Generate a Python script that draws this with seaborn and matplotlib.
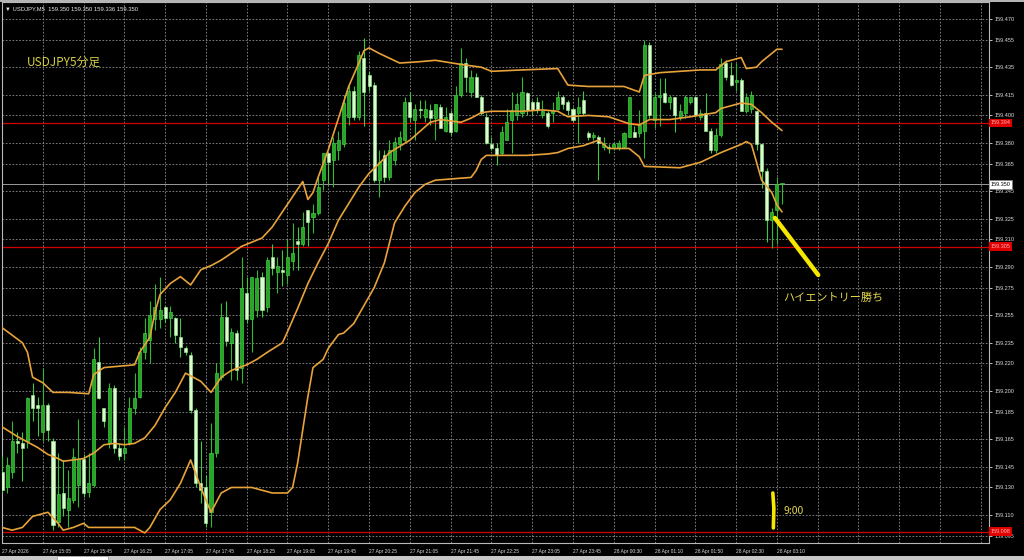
import numpy as np
import pandas as pd
import matplotlib
matplotlib.use("Agg")
import matplotlib.pyplot as plt
from matplotlib.patches import Rectangle
import seaborn as sns

BASE = 159.0  # prices below are in points (0.001) above 159.000

open_pts = [141,130,141,164,162,164,197,190,170,190,
            164,105,126,114,121,132,151,127,132,221,
            188,162,202,159,155,162,188,196,228,237,
            252,252,261,253,253,239,231,226,186,133,
            130,112,155,210,254,235,242,217,271,252,
            259,283,261,297,286,288,284,294,309,307,
            331,326,329,353,373,368,375,379,399,418,
            399,442,429,422,353,371,355,368,379,382,
            410,397,405,399,404,398,406,389,402,389,
            415,438,417,428,413,399,379,376,373,382,
            397,400,402,416,410,410,400,402,402,405,
            413,410,405,402,411,387,384,384,377,377,
            376,376,377,384,388,387,389,451,397,413,
            416,410,413,399,402,410,413,399,402,389,
            375,386,438,429,424,426,403,405,403,379,
            360,324,331,350]
high_pts = [153,152,178,170,170,196,206,196,217,191,
            166,155,150,143,159,180,154,155,231,239,
            188,206,204,162,174,196,213,232,253,265,
            278,283,262,262,254,253,233,228,188,164,
            139,177,220,264,265,246,244,297,283,283,
            288,286,297,307,297,302,310,322,319,330,
            331,336,355,373,373,384,389,415,422,421,
            447,456,432,424,375,375,382,384,389,413,
            417,408,411,411,408,408,408,406,404,421,
            449,442,433,431,415,402,384,380,392,405,
            417,416,428,417,411,413,411,403,410,418,
            415,411,406,413,418,389,388,386,384,379,
            381,382,388,413,392,404,455,453,416,427,
            427,415,413,408,415,413,413,405,416,391,
            391,442,440,439,438,427,416,418,404,380,
            362,333,355,350]
low_pts = [127,126,137,155,135,159,178,167,164,164,
           99,101,109,101,119,116,123,123,130,194,
           174,159,155,150,150,161,183,195,223,220,
           244,246,250,239,235,225,226,184,130,119,
           101,101,152,208,233,208,208,206,249,228,
           254,254,257,284,271,276,278,288,288,305,
           305,315,328,346,350,348,368,377,393,397,
           397,392,418,352,341,352,353,364,375,381,
           395,382,398,395,393,382,391,388,386,388,
           413,417,413,413,400,379,375,364,371,382,
           373,397,399,400,400,402,398,391,395,404,
           405,400,395,380,400,382,382,353,375,373,
           375,375,376,384,384,384,369,398,391,392,
           409,405,388,397,398,408,399,397,389,373,
           373,384,426,421,418,403,402,402,375,347,
           308,304,307,336]
close_pts = [128,146,164,162,159,195,188,188,190,172,
             103,125,115,122,152,151,126,133,223,195,
             178,202,159,153,159,188,195,228,242,255,
             261,259,253,257,241,232,228,186,133,128,
             104,155,213,254,236,243,215,275,252,283,
             282,259,295,289,291,286,297,300,307,319,
             323,329,348,373,366,380,382,409,418,399,
             444,417,421,353,366,355,375,381,384,410,
             399,405,404,405,398,408,391,399,388,415,
             438,428,428,413,402,380,376,371,388,395,
             404,408,417,404,404,404,403,392,404,413,
             408,404,397,406,402,384,386,380,380,376,
             379,380,387,413,384,393,451,400,413,415,
             410,413,400,403,413,413,400,402,389,375,
             386,437,428,422,426,403,413,415,379,360,
             324,330,350,350]

# Bollinger band vertices (bar index, points)
upper_idx = [0,4,5,6,8,10,13,17,18,20,26,27,29,30,31,33,35,37,39,41,
             43,45,47,49,51,53,55,57,59,60,61,62,64,66,68,70,71,72,74,78,
             82,85,90,94,96,102,109,111,115,119,122,125,126,129,137,140,142,145,146,148,
             149,151,152,153]
upper_pts = [246,235,228,210,206,199,199,198,212,217,219,228,239,257,270,278,283,277,288,291,
             295,300,305,308,311,319,330,341,352,339,344,355,375,398,421,438,447,449,445,438,
             439,440,437,435,432,433,434,422,421,421,421,417,429,431,433,433,439,442,434,435,
             439,445,448,448]
mid_idx = [0,3,5,7,9,11,12,14,16,18,20,22,24,26,28,30,32,34,36,39,
           41,43,45,48,50,52,55,56,58,60,62,64,66,68,70,72,74,76,80,84,
           86,90,92,94,96,102,106,109,111,115,119,123,125,127,131,135,140,141,145,147,
           149,151,153]
mid_pts = [174,167,163,159,154,151,149,150,151,155,161,162,161,162,166,175,188,199,213,207,
           199,210,215,219,223,228,235,243,260,278,293,307,324,336,348,358,365,373,382,395,
           397,395,398,402,403,403,404,403,399,400,399,394,393,397,397,399,402,405,409,408,
           402,395,389]
lower_idx = [0,2,4,6,9,11,12,14,16,17,19,26,28,29,31,33,35,37,39,41,
             43,45,49,53,56,57,58,59,60,61,63,64,66,67,69,71,73,75,77,79,
             81,83,85,92,93,94,95,103,107,109,111,114,117,119,123,125,126,133,137,141,
             145,146,147,148,149,151,152,153]
lower_pts = [101,99,101,109,112,104,99,101,104,101,101,101,97,101,114,121,133,150,130,112,
             126,130,130,126,126,130,148,172,196,217,223,231,241,242,249,262,275,293,322,334,
             344,350,353,355,360,368,371,371,372,373,376,378,382,376,376,370,363,362,366,373,
             379,381,379,366,353,344,335,330]

time_labels = ["27 Apr 2026", "27 Apr 15:05", "27 Apr 15:45", "27 Apr 16:25", "27 Apr 17:05",
               "27 Apr 17:45", "27 Apr 18:25", "27 Apr 19:05", "27 Apr 19:45", "27 Apr 20:25",
               "27 Apr 21:05", "27 Apr 21:45", "27 Apr 22:25", "27 Apr 23:05", "27 Apr 23:45",
               "28 Apr 00:30", "28 Apr 01:10", "28 Apr 01:50", "28 Apr 02:30", "28 Apr 03:10"]
price_ticks = [159.470, 159.455, 159.435, 159.415, 159.400, 159.380, 159.365, 159.345,
               159.325, 159.310, 159.290, 159.275, 159.255, 159.235, 159.220, 159.200,
               159.185, 159.165, 159.145, 159.130, 159.110, 159.095]
red_levels = [159.3945, 159.3046, 159.0980]
red_texts = ["159.394", "159.305", "159.098"]
bid_price = 159.350
header_text = "▼ USDJPY,M5  159.350 159.350 159.336 159.350"
title_note = "USDJPY5分足"
win_note = "ハイエントリー勝ち"
time_note = "9:00"

n = len(open_pts)
assert all(len(a) == n for a in (high_pts, low_pts, close_pts))
assert len(upper_idx) == len(upper_pts) and len(mid_idx) == len(mid_pts) and len(lower_idx) == len(lower_pts)

sns.set_theme(style="dark", rc={"axes.facecolor": "black", "figure.facecolor": "black",
                                "axes.edgecolor": "#b8b8b8", "text.color": "#d8d8d8",
                                "xtick.color": "#d0d0d0", "ytick.color": "#d0d0d0"})
plt.rcParams["font.family"] = ["Liberation Sans", "DejaVu Sans", "Noto Sans CJK JP"]
JP = ["Noto Sans CJK JP", "DejaVu Sans"]

df = pd.DataFrame({"bar": np.arange(n),
                   "open": BASE + np.array(open_pts) / 1000,
                   "high": BASE + np.array(high_pts) / 1000,
                   "low": BASE + np.array(low_pts) / 1000,
                   "close": BASE + np.array(close_pts) / 1000})
df["high"] = df[["high", "open", "close"]].max(axis=1)
df["low"] = df[["low", "open", "close"]].min(axis=1)
bull = (df["close"] >= df["open"]).to_numpy()

W, H = 1024, 560
fig = plt.figure(figsize=(W / 100, H / 100), dpi=100, facecolor="black")
ax = fig.add_axes([2 / W, 17 / H, 987 / W, 541 / H])
ax.set_facecolor("black")

ax.set_xlim(0.06, 193.6)
ax.set_ylim(159.0897, 159.4823)

# grid
major_x = np.arange(0, n, 8)
minor_x = np.arange(major_x[-1] + 8, 194, 8)
ax.set_xticks(major_x)
ax.set_xticklabels(time_labels, ha="left")
ax.set_xticks(minor_x, minor=True)
ax.set_yticks(price_ticks)
ax.set_yticklabels([f"{p:.3f}" for p in price_ticks])
ax.yaxis.tick_right()
ax.grid(True, which="both", color="#909090", linestyle=(0, (2, 2)), linewidth=0.6, zorder=0)
ax.set_axisbelow(True)
ax.tick_params(axis="x", which="major", labelsize=3.5, length=2.5, width=0.6, pad=1.5,
               colors="#dcdcdc", direction="out")
ax.tick_params(axis="x", which="minor", length=0)
ax.tick_params(axis="y", labelsize=4.0, length=2.5, width=0.6, pad=1.5, colors="#dcdcdc")
for s in ax.spines.values():
    s.set_color("#b8b8b8")
    s.set_linewidth(0.8)

# horizontal level lines
for lv in red_levels:
    ax.axhline(lv, color="#d20000", lw=0.9, zorder=1)
ax.axhline(bid_price, color="#9a9a9a", lw=0.7, zorder=1)

# candles
wick_col = np.where(bull, "#32b832", "#40c840")
ax.vlines(df["bar"], df["low"], df["high"], colors=wick_col, lw=0.8, zorder=3)
body_h = np.maximum((df["close"] - df["open"]).abs(), 0.0006)
ax.bar(df["bar"], body_h, bottom=np.minimum(df["open"], df["close"]), width=0.6,
       color=np.where(bull, "#27a527", "#dcfcd0"),
       edgecolor=np.where(bull, "#44d444", "#98ec90"), linewidth=0.45, zorder=4)

# Bollinger bands
band_col = "#e8a23a"
for idx, pts in ((upper_idx, upper_pts), (mid_idx, mid_pts), (lower_idx, lower_pts)):
    sns.lineplot(x=idx, y=BASE + np.array(pts) / 1000, ax=ax, color=band_col,
                 linewidth=1.2, errorbar=None, legend=False, zorder=5)
ax.set_xlabel("")
ax.set_ylabel("")

# right-axis price boxes
ytr = ax.get_yaxis_transform()
for lv, t in zip(red_levels, red_texts):
    ax.text(1.0015, lv, t, transform=ytr, ha="left", va="center", fontsize=4.0,
            color="#ffb0b0", clip_on=False, zorder=10,
            bbox=dict(boxstyle="square,pad=0.35", fc="#e00000", ec="none"))
ax.text(1.0015, bid_price, f"{bid_price:.3f}", transform=ytr, ha="left", va="center",
        fontsize=4.0, color="black", clip_on=False, zorder=10,
        bbox=dict(boxstyle="square,pad=0.35", fc="white", ec="#808080", lw=0.4))

# annotations
ax.text(4.96, 159.4388, title_note, family=JP, fontsize=8.5, color="#d6cf45",
        ha="left", va="center", zorder=8)
ax.text(153.2, 159.2675, win_note, family=JP, fontsize=8, color="#e6d84a",
        ha="left", va="center", zorder=8)
ax.text(153.2, 159.113, time_note, family=JP, fontsize=7.5, color="#e6d84a",
        ha="left", va="center", zorder=8)
ax.plot([151.6, 160.1], [159.3256, 159.2842], color="#f7e600", lw=3.2,
        solid_capstyle="round", zorder=9)
ax.plot([151.2, 151.4, 151.3], [159.1260, 159.1150, 159.1006], color="#f7e600", lw=2.6,
        solid_capstyle="round", zorder=9)

# header and window chrome
fig.text(5 / W, 1 - 9 / H, header_text, fontsize=4.2, color="#e8e8e8", va="center", ha="left")
fig.patches.append(Rectangle((0, 1 - 2 / H), 1, 2 / H, transform=fig.transFigure,
                             fc="#b4b4b4", ec="none"))
fig.patches.append(Rectangle((0, 0), 1, 4 / H, transform=fig.transFigure,
                             fc="#c8c8c8", ec="none"))
fig.patches.append(Rectangle((57 / W, 0), 51 / W, 4 / H, transform=fig.transFigure,
                             fc="white", ec="#888888", lw=0.4))

fig.savefig("out.png", dpi=100, facecolor="black")
